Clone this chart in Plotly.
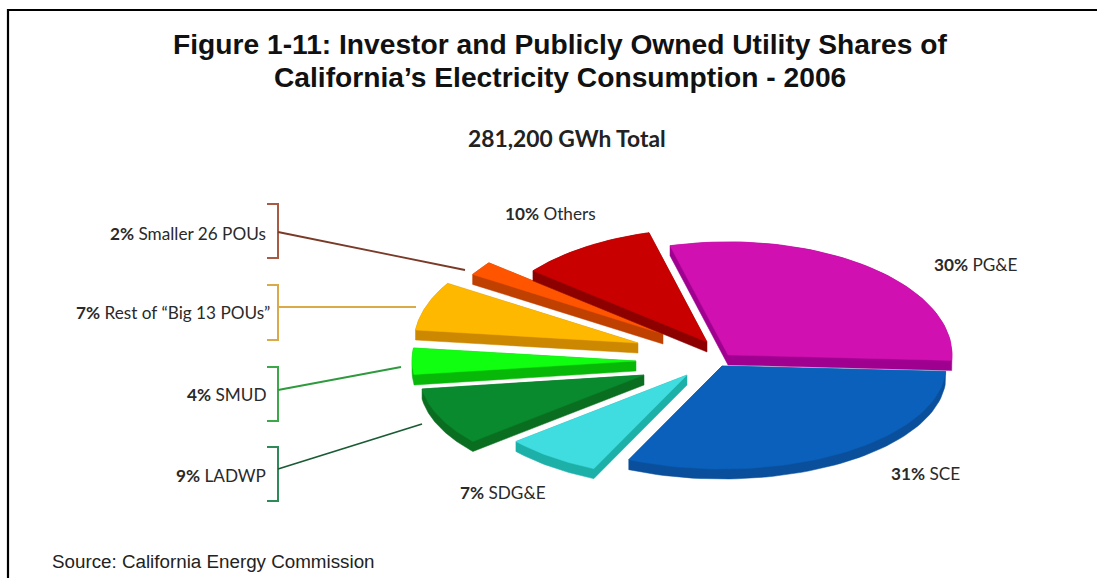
import numpy as np
import plotly.graph_objects as go

# Consumption shares, clockwise from the top of the pie
names = ["PG&E", "SCE", "SDG&E", "LADWP", "SMUD", 'Rest of "Big 13 POUs"', "Smaller 26 POUs", "Others"]
shares = [30, 31, 7, 9, 4, 7, 2, 10]
title_lines = ["Figure 1-11: Investor and Publicly Owned Utility Shares of",
               "California\u2019s Electricity Consumption - 2006"]
subtitle = "281,200 GWh Total"
source = "Source: California Energy Commission"

top_colors = ["#D010B0", "#0A60BA", "#40DDE0", "#0A8A2E", "#10FF10", "#FFB800", "#FF5500", "#C80000"]
side_colors = ["#A00090", "#0A4F9C", "#1CB0A8", "#0A6E20", "#08B808", "#CC8800", "#C04000", "#8C0000"]

# Pie geometry in canvas units
CX, CY = 725, 360
RADIUS = 224
SQUASH_UP, SQUASH_DOWN = 0.505, 0.46
DEPTH = 10
START_DEG = 105
pull = [(3, -5), (-3, 6), (-38, 15), (-81, 15), (-89, 1), (-87, -17), (-62, -26), (-18, -18)]


def project(deg, apex):
    rad = np.radians(deg)
    s = np.sin(rad)
    squash = np.where(s > 0, SQUASH_UP, SQUASH_DOWN)
    return apex[0] + RADIUS * np.cos(rad), apex[1] - RADIUS * s * squash


def convex_hull(points):
    # Andrew's monotone chain; each wedge is convex, so the hull of the wedge
    # and its dropped copy is the full extruded silhouette.
    pts = sorted(set(points))

    def half(seq):
        chain = []
        for p in seq:
            while len(chain) >= 2 and ((chain[-1][0] - chain[-2][0]) * (p[1] - chain[-2][1])
                                       - (chain[-1][1] - chain[-2][1]) * (p[0] - chain[-2][0])) <= 0:
                chain.pop()
            chain.append(p)
        return chain[:-1]

    return half(pts) + half(pts[::-1])


fig = go.Figure()
total = sum(shares)
angle = START_DEG
for share, top, side, (dx, dy) in zip(shares, top_colors, side_colors, pull):
    sweep = 360 * share / total
    arc = np.linspace(angle, angle - sweep, 60)
    angle -= sweep
    apex = (CX + dx, CY + dy)
    ax, ay = project(arc, apex)
    px = [apex[0], *ax.tolist(), apex[0]]
    py = [apex[1], *ay.tolist(), apex[1]]

    # Extruded wall drawn beneath the top face
    corners = [(x, y) for x, y in zip(px, py)] + [(x, y + DEPTH) for x, y in zip(px, py)]
    hull = convex_hull(corners)
    hull.append(hull[0])
    fig.add_trace(go.Scatter(x=[p[0] for p in hull], y=[p[1] for p in hull], mode="lines",
                             fill="toself", fillcolor=side,
                             line=dict(color=side, width=0.5), hoverinfo="skip"))
    fig.add_trace(go.Scatter(x=px, y=py, mode="lines", fill="toself", fillcolor=top,
                             line=dict(color=top, width=0.5), hoverinfo="skip"))

# Brackets and leader lines for the left-hand labels
callouts = [
    (204, 258, "#A85A42", (278, 232), (465, 270), "#7A3A28"),
    (285, 340, "#D9A94A", (278, 307), (416, 307), "#D9A94A"),
    (367, 421, "#3DA84A", (278, 390), (401, 367), "#2E9A3E"),
    (447, 501, "#2F8A5A", (278, 469), (422, 424), "#1A5A34"),
]
for y0, y1, col, start, end, leader in callouts:
    fig.add_trace(go.Scatter(x=[267, 278, 278, 267], y=[y0, y0, y1, y1], mode="lines",
                             line=dict(color=col, width=2), hoverinfo="skip"))
    fig.add_trace(go.Scatter(x=[start[0], end[0]], y=[start[1], end[1]], mode="lines",
                             line=dict(color=leader, width=1.8), hoverinfo="skip"))

# Page frame: top and left rules only
fig.add_trace(go.Scatter(x=[8, 8, 1097], y=[578, 10, 10], mode="lines",
                         line=dict(color="black", width=2.2), hoverinfo="skip"))

LABEL_FONT = dict(family="Lato", size=17.2, color="#2a2a2a")
label_spots = [(1020, 264), (962, 473), (548, 492), (268, 475), (268, 394), (272, 312), (268, 233), (598, 213)]
label_names = [n.replace('"Big', "\u201cBig").replace('POUs"', "POUs\u201d") for n in names]
annotations = []
for share, name, (x, y) in zip(shares, label_names, label_spots):
    annotations.append(dict(x=x, y=y, xref="x", yref="y", xanchor="right", yanchor="middle",
                            text=f"<b>{share}%</b> {name}", showarrow=False, font=LABEL_FONT))
for y, line in zip((44, 77), title_lines):
    annotations.append(dict(x=560, y=y, xref="x", yref="y", xanchor="center", yanchor="middle",
                            text=f"<b>{line}</b>", showarrow=False,
                            font=dict(family="Liberation Sans", size=28.2, color="#111111")))
annotations.append(dict(x=567, y=138, xref="x", yref="y", xanchor="center", yanchor="middle",
                        text=f"<b>{subtitle}</b>", showarrow=False,
                        font=dict(family="Lato", size=22.8, color="#222222")))
annotations.append(dict(x=50, y=561, xref="x", yref="y", xanchor="left", yanchor="middle",
                        text=source, showarrow=False,
                        font=dict(family="Liberation Sans", size=18.8, color="#222222")))

fig.update_layout(
    width=1097, height=578, margin=dict(l=0, r=0, t=0, b=0),
    paper_bgcolor="white", plot_bgcolor="white", showlegend=False,
    annotations=annotations,
    xaxis=dict(range=[0, 1097], visible=False, fixedrange=True),
    yaxis=dict(range=[578, 0], visible=False, fixedrange=True),
)
fig.write_html("out.html", config=dict(displayModeBar=False))
